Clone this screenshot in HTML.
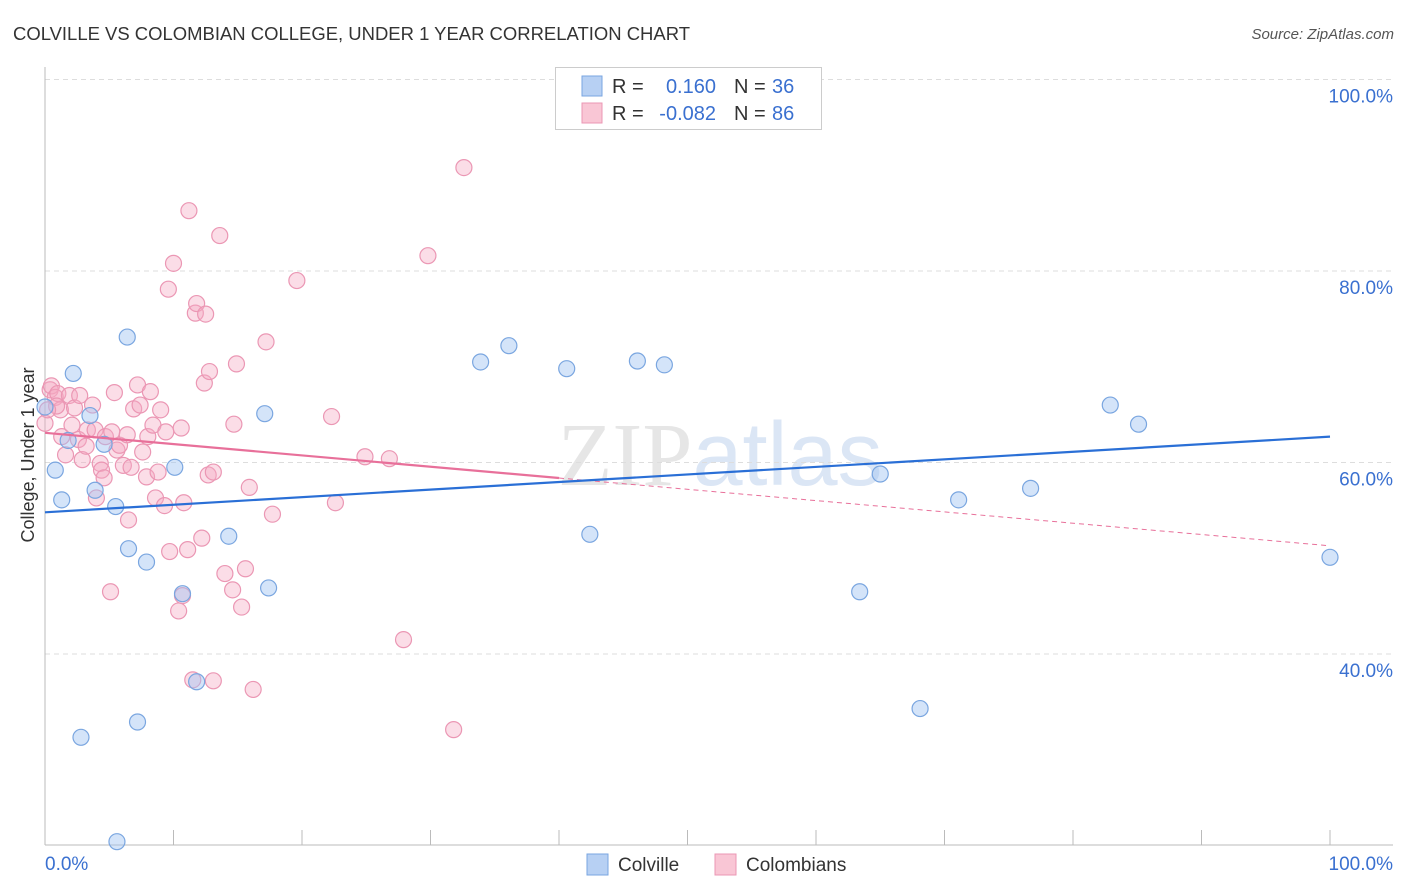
<!DOCTYPE html>
<html><head><meta charset="utf-8"><style>
body{margin:0;background:#fff;font-family:"Liberation Sans",sans-serif;}
svg{display:block}
</style></head><body>
<svg id="chart" width="1406" height="892">
<text x="13" y="40" font-size="18" fill="#333" textLength="677" lengthAdjust="spacingAndGlyphs">COLVILLE VS COLOMBIAN COLLEGE, UNDER 1 YEAR CORRELATION CHART</text>
<text x="1394" y="39" font-size="15" fill="#555" font-style="italic" text-anchor="end">Source: ZipAtlas.com</text>
<text x="720" y="485" font-size="90" fill="#e6e6e6" text-anchor="middle" font-family="Liberation Serif,serif">ZIP<tspan fill="#dbe6f5" font-family="Liberation Sans,sans-serif">atlas</tspan></text>
<g id="grid"></g><g id="axes"></g><g id="marks"></g>
<text transform="translate(34,455) rotate(-90)" font-size="18" fill="#333" text-anchor="middle">College, Under 1 year</text>
<g>
<rect x="555.5" y="67.5" width="266" height="62" fill="#fff" stroke="#ccc"/>
<rect x="582" y="76" width="20" height="20" fill="#b7d0f3" stroke="#7aa6e0"/>
<rect x="582" y="103" width="20" height="20" fill="#f9c6d5" stroke="#eb97b4"/>
<text x="612" y="93" font-size="20" fill="#333">R = </text><text x="716" y="93" font-size="20" fill="#3a70d0" text-anchor="end">0.160</text>
<text x="734" y="93" font-size="20" fill="#333">N = </text><text x="772" y="93" font-size="20" fill="#3a70d0">36</text>
<text x="612" y="120" font-size="20" fill="#333">R = </text><text x="716" y="120" font-size="20" fill="#3a70d0" text-anchor="end">-0.082</text>
<text x="734" y="120" font-size="20" fill="#333">N = </text><text x="772" y="120" font-size="20" fill="#3a70d0">86</text>
</g>
<g><rect x="587" y="854" width="21" height="21" fill="#b7d0f3" stroke="#7aa6e0"/><text x="618" y="871" font-size="19" fill="#333">Colville</text></g>
<g><rect x="715" y="854" width="21" height="21" fill="#f9c6d5" stroke="#eb97b4"/><text x="746" y="871" font-size="19" fill="#333">Colombians</text></g>
</svg>
<script>
const yTicks=[40,60,80,100];
const yTickLabels=["40.0%","60.0%","80.0%","100.0%"];
const xEndLabels=["0.0%","100.0%"];
const blueX=[0,0.8,1.3,2.2,1.8,3.5,3.9,4.6,5.5,6.4,6.5,7.9,10.1,10.7,11.8,14.3,17.1,17.4,2.8,7.2,5.6,33.9,36.1,40.6,42.4,46.1,48.2,53.5,65.0,63.4,68.1,71.1,76.7,82.9,85.1,100];
const blueY=[65.8,59.2,56.1,69.3,62.3,64.9,57.1,61.9,55.4,73.1,51.0,49.6,59.5,46.3,37.1,52.3,65.1,46.9,31.3,32.9,20.4,70.5,72.2,69.8,52.5,70.6,70.2,99.9,58.8,46.5,34.3,56.1,57.3,66.0,64.0,50.1];
const pinkX=[0,0.4,0.5,0.8,1.0,1.2,1.3,1.6,1.9,2.1,2.3,2.6,2.7,2.9,3.2,3.3,3.7,3.9,4.0,4.3,4.4,4.6,4.7,5.1,5.2,5.4,5.6,5.8,6.1,6.4,6.5,6.7,6.9,7.2,7.4,7.6,7.9,8.0,8.2,8.4,8.6,8.8,9.0,9.3,9.4,9.7,10.0,9.6,10.4,10.6,10.8,11.1,11.2,11.5,11.7,11.8,12.4,12.5,12.2,12.7,12.8,13.1,13.1,13.6,14.0,14.6,14.7,14.9,15.3,15.6,15.9,16.2,17.2,17.7,19.6,22.3,22.6,24.9,26.8,27.9,29.8,31.8,32.6,10.7,0.9,0.2];
const pinkY=[64.1,67.6,68.0,66.8,67.2,65.5,62.7,60.8,67.0,63.9,65.7,62.4,67.0,60.3,61.7,63.4,66.0,63.4,56.3,59.9,59.2,58.4,62.7,46.5,63.2,67.3,61.3,61.8,59.7,62.9,54.0,59.5,65.6,68.1,66.0,61.1,58.5,62.7,67.4,63.9,56.3,59.0,65.5,55.5,63.2,50.7,80.8,78.1,44.5,63.6,55.8,50.9,86.3,37.3,75.6,76.6,68.3,75.5,52.1,58.7,69.5,59.0,37.2,83.7,48.4,46.7,64.0,70.3,44.9,48.9,57.4,36.3,72.6,54.6,79.0,64.8,55.8,60.6,60.4,41.5,81.6,32.1,90.8,46.1,65.9,65.5];
const blueTrend=[54.8,62.7];
const pinkTrend=[63.1,51.3];
const pinkSolidEnd=40;
const NS='http://www.w3.org/2000/svg';
const X=v=>45+v*12.85, Y=v=>1037-v*9.575;
function mk(tag,attrs,parent){const e=document.createElementNS(NS,tag);for(const k in attrs)e.setAttribute(k,attrs[k]);document.getElementById(parent).appendChild(e);return e;}
yTicks.forEach((t,i)=>{
 const l=mk('line',{x1:45,x2:1393,y1:Y(t),y2:Y(t),stroke:'#ddd','stroke-dasharray':'5,4'},'grid');
 
 
 const tx=mk('text',{x:1393,y:Y(t)+23,'font-size':19,fill:'#3a70d0','text-anchor':'end'},'axes');tx.textContent=yTickLabels[i];
 
 
});
const ya=mk('line',{x1:45,x2:45,y1:67,y2:845,stroke:'#bbb'},'axes');


const xa=mk('line',{x1:45,x2:1393,y1:845,y2:845,stroke:'#bbb'},'axes');


for(let i=0;i<=10;i++){const t=mk('line',{x1:X(i*10),x2:X(i*10),y1:830,y2:845,stroke:'#bbb'},'axes');
 
 }
[[0,'start',45],[1,'end',1393]].forEach(([i,a,x])=>{const t=mk('text',{x:x,y:870,'font-size':19,fill:'#3a70d0','text-anchor':a},'axes');t.textContent=xEndLabels[i];
 
 });
pinkX.forEach((v,i)=>{const c=mk('circle',{cx:X(v),cy:Y(pinkY[i]),r:8,fill:'rgba(246,170,196,0.4)',stroke:'#eb97b4','stroke-width':1.2},'marks');
 
 });
blueX.forEach((v,i)=>{const c=mk('circle',{cx:X(v),cy:Y(blueY[i]),r:8,fill:'rgba(160,195,242,0.45)',stroke:'#7aa6e0','stroke-width':1.2},'marks');
 
 });
const pv=x=>pinkTrend[0]+(pinkTrend[1]-pinkTrend[0])*x/100;
const p1=mk('line',{x1:X(0),y1:Y(pinkTrend[0]),x2:X(pinkSolidEnd),y2:Y(pv(pinkSolidEnd)),stroke:'#e8709a','stroke-width':2.2},'marks');


const p2=mk('line',{x1:X(pinkSolidEnd),y1:Y(pv(pinkSolidEnd)),x2:X(100),y2:Y(pinkTrend[1]),stroke:'#e8709a','stroke-width':1,'stroke-dasharray':'5,4'},'marks');


const b=mk('line',{x1:X(0),y1:Y(blueTrend[0]),x2:X(100),y2:Y(blueTrend[1]),stroke:'#2a6fd6','stroke-width':2.2},'marks');


</script>
</body></html>
